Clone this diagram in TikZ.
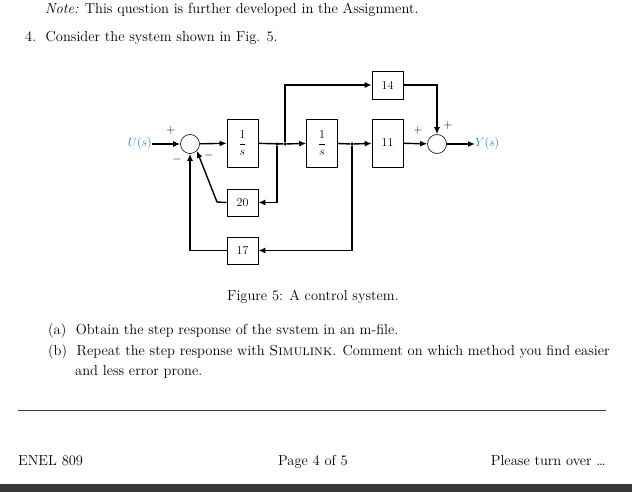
\documentclass[tikz,border=0pt]{standalone}
\usetikzlibrary{arrows.meta}
\begin{document}
\begin{tikzpicture}[x=1pt,y=-1pt,
  txt/.style={anchor=base west,inner sep=0,font=\fontsize{14.5}{16}\selectfont},
  blk/.style={draw,line width=0.6pt,minimum width=31pt,inner sep=0,font=\fontsize{12}{14}\selectfont},
  sumj/.style={draw,circle,minimum size=19pt,inner sep=0,line width=0.6pt},
  sig/.style={line width=1.4pt,-{Latex[length=7pt,width=6pt]}},
  wire/.style={line width=1.4pt},
  lab/.style={font=\fontsize{12}{13}\selectfont,inner sep=0},
  dot/.style={circle,fill,inner sep=0,minimum size=3.5pt}]
\useasboundingbox (0,0) rectangle (632,492);
\fill[white] (0,0) rectangle (632,492);
\fill[black!78] (0,484) rectangle (632,492);
\node[txt] (note) at (45,14) {\textit{Note:} This question is further developed in the Assignment.};
\node[txt] (q) at (25,42) {4.\ \ Consider the system shown in Fig. 5.};
\node[txt,anchor=base] (cap) at (313,300) {Figure 5: A control system.};
\node[txt] (a) at (48,334) {(a)\ \ Obtain the step response of the svstem in an m-file.};
\node[txt] (b) at (48,355) {(b)\ \ Repeat the step response with \textsc{Simulink}. Comment on which method you find easier};
\node[txt] (b2) at (75,375) {and less error prone.};
\draw[line width=1pt,black!75] (18,410) -- (606,410);
\node[txt] (f1) at (18,465) {ENEL 809};
\node[txt,anchor=base] (f2) at (313,465) {Page 4 of 5};
\node[txt,anchor=base east] (f3) at (606,465) {Please turn over \dots};
% diagram
\node[lab,text=cyan!70!blue,anchor=east] (U) at (152,144) {$U(s)$};
\node[sumj] (s1) at (190,144) {};
\node[blk,minimum height=48pt] (g1) at (242.5,143) {$\displaystyle\frac{1}{s}$};
\node[blk,minimum height=48pt] (g2) at (322,143) {$\displaystyle\frac{1}{s}$};
\node[blk,minimum height=48pt] (k11) at (387.5,143) {11};
\node[blk,minimum height=28pt] (k14) at (387.5,85) {14};
\node[blk,minimum height=27pt] (k20) at (242.5,202.5) {20};
\node[blk,minimum height=27pt] (k17) at (242.5,250.5) {17};
\node[sumj] (s2) at (437,144) {};
\node[lab,text=cyan!70!blue,anchor=west] (Y) at (475,144) {$Y(s)$};
\node[dot] (d1) at (277,144) {};
\node[dot] (d2) at (285,144) {};
\node[dot] (d3) at (352,144) {};
\coordinate (c20) at (217,202);
\draw[sig] (U) -- (s1);
\draw[sig] (s1) -- (g1);
\draw[wire] (g1) -- (d2);
\draw[sig] (d2) -- (g2);
\draw[wire] (g2) -- (d3);
\draw[sig] (d3) -- (k11);
\draw[sig] (k11) -- (s2);
\draw[sig] (s2) -- (Y);
\draw[sig] (d2) |- (k14);
\draw[sig] (k14.east) -| (s2.north);
\draw[sig] (d1) |- (k20);
\draw[sig] (k20.west) -- (c20) -- (s1.south east);
\draw[sig] (d3) |- (k17);
\draw[sig] (k17.west) -| (s1.south);
\node[lab] (p1) at (171,131) {$+$};
\node[lab] (m1) at (177,160) {$-$};
\node[lab] (m2) at (209,156) {$-$};
\node[lab] (p2) at (418,131) {$+$};
\node[lab] (p3) at (448,126) {$+$};
\end{tikzpicture}
\end{document}
